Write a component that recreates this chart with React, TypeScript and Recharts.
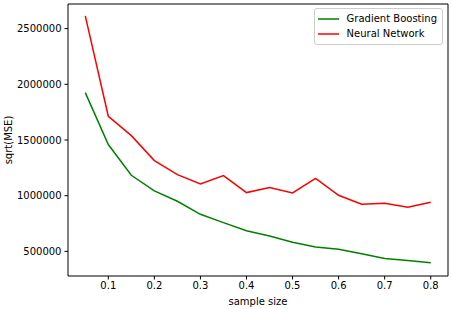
import React from "react";
import {
  LineChart,
  Line,
  XAxis,
  YAxis,
  ReferenceLine,
} from "recharts";

const sampleSizes = [0.05, 0.1, 0.15, 0.2, 0.25, 0.3, 0.35, 0.4, 0.45, 0.5, 0.55, 0.6, 0.65, 0.7, 0.75, 0.8];
const gradientBoosting = [1925000, 1459000, 1183000, 1043000, 950000, 833000, 758000, 686000, 639000, 582000, 540000, 519000, 478000, 436000, 418000, 397000];
const neuralNetwork = [2615000, 1713000, 1539000, 1315000, 1189000, 1106000, 1180000, 1028000, 1073000, 1025000, 1156000, 1004000, 923000, 932000, 896000, 941000];
const xTicks = [0.1, 0.2, 0.3, 0.4, 0.5, 0.6, 0.7, 0.8];
const yTicks = [500000, 1000000, 1500000, 2000000, 2500000];
const seriesNames = ["Gradient Boosting", "Neural Network"];
const seriesColors = ["green", "red"];

const data = sampleSizes.map((s, i) => ({
  size: s,
  gb: gradientBoosting[i],
  nn: neuralNetwork[i],
}));

const xDomain = [0.0125, 0.8375];
const yDomain = [279000, 2721000];
const font = "DejaVu Sans, sans-serif";

const LegendBox = () => (
  <div
    style={{
      position: "absolute",
      top: 8,
      right: 9,
      border: "1px solid #cccccc",
      borderRadius: 3,
      background: "white",
      padding: "2px 5px 3px 3px",
      fontFamily: font,
      fontSize: 10,
      color: "#000",
      lineHeight: "15px",
    }}
  >
    {seriesNames.map((name, i) => (
      <div key={name} style={{ display: "flex", alignItems: "center" }}>
        <svg width={21} height={4} style={{ marginRight: 8 }}>
          <line x1={0} y1={2} x2={21} y2={2} stroke={seriesColors[i]} strokeWidth={1.5} />
        </svg>
        {name}
      </div>
    ))}
  </div>
);

export default function App() {
  return (
    <div style={{ position: "absolute", left: 0, top: 0, width: 452, height: 309, background: "white" }}>
      <LineChart
        width={452}
        height={309}
        data={data}
        margin={{ top: 4, right: 4, left: 0, bottom: 0 }}
      >
        <XAxis
          dataKey="size"
          type="number"
          domain={xDomain}
          ticks={xTicks}
          allowDataOverflow
          height={33}
          stroke="#000"
          tickSize={3.5}
          tickMargin={2}
          tick={{ fill: "#000", fontSize: 10, fontFamily: font }}
          tickFormatter={(v: number) => String(v)}
          label={{
            value: "sample size",
            position: "insideBottom",
            offset: 4,
            fill: "#000",
            fontSize: 10,
            fontFamily: font,
          }}
        />
        <YAxis
          type="number"
          domain={yDomain}
          ticks={yTicks}
          allowDataOverflow
          width={68}
          stroke="#000"
          tickSize={3.5}
          tickMargin={3}
          tick={{ fill: "#000", fontSize: 10, fontFamily: font }}
          label={{
            value: "sqrt(MSE)",
            angle: -90,
            position: "insideLeft",
            offset: 8,
            style: { textAnchor: "middle" },
            fill: "#000",
            fontSize: 10,
            fontFamily: font,
          }}
        />
        <ReferenceLine y={yDomain[1]} stroke="#000" strokeWidth={1} />
        <ReferenceLine x={xDomain[1]} stroke="#000" strokeWidth={1} />
        <Line
          type="linear"
          dataKey="gb"
          name={seriesNames[0]}
          stroke={seriesColors[0]}
          strokeWidth={1.5}
          dot={false}
          isAnimationActive={false}
        />
        <Line
          type="linear"
          dataKey="nn"
          name={seriesNames[1]}
          stroke={seriesColors[1]}
          strokeWidth={1.5}
          dot={false}
          isAnimationActive={false}
        />
      </LineChart>
      <LegendBox />
    </div>
  );
}
